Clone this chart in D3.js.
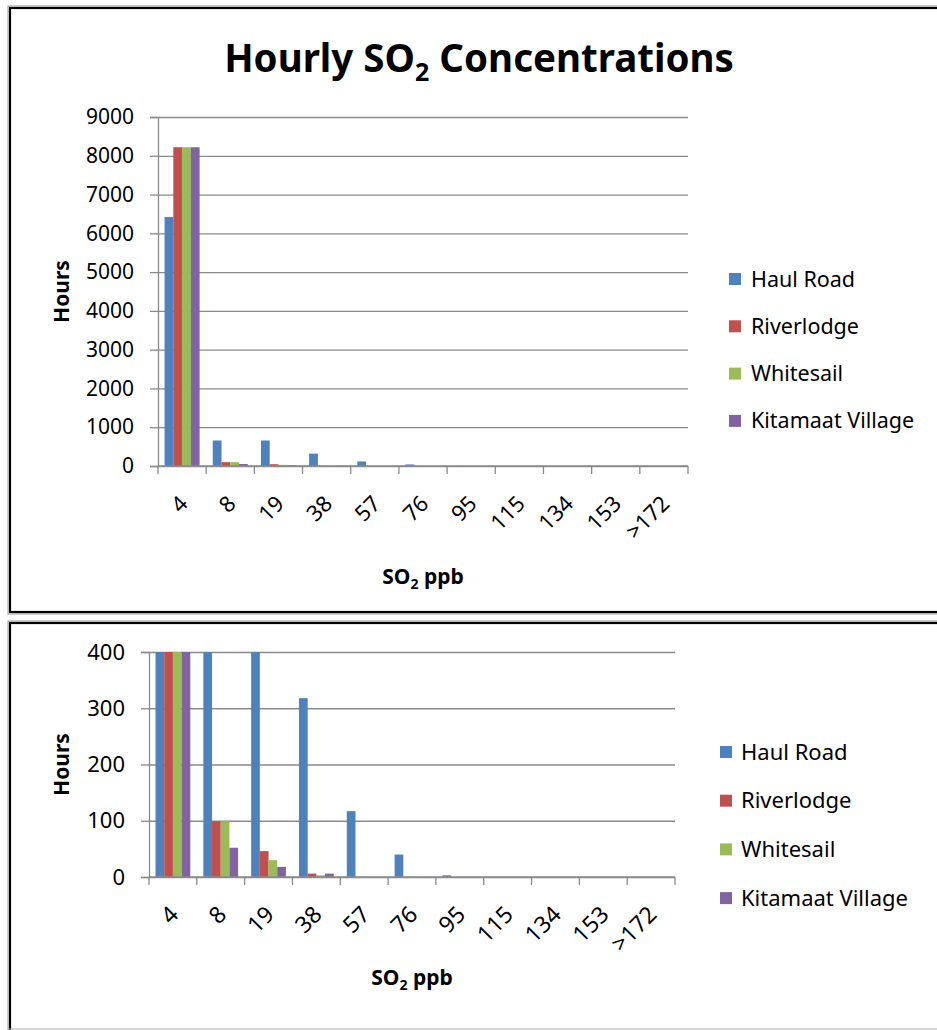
<!DOCTYPE html>
<html>
<head>
<meta charset="utf-8">
<script src="https://cdn.jsdelivr.net/npm/d3@7"></script>
<style>
  html, body { margin: 0; padding: 0; background: #fff; }
  svg { display: block; font-family: "Noto Sans", "Open Sans", sans-serif; }
</style>
</head>
<body>
<svg id="chart" width="937" height="1030"></svg>
<script>
// SO2 concentration bins (ppb) and hours per bin at each station
const categories = ["4", "8", "19", "38", "57", "76", "95", "115", "134", "153", ">172"];
const seriesNames = ["Haul Road", "Riverlodge", "Whitesail", "Kitamaat Village"];
const haulRoad   = [6420, 658, 658, 318, 117, 40, 3, 0, 0, 0, 0];
const riverlodge = [8220, 99, 46, 6, 0, 0, 0, 0, 0, 0, 0];
const whitesail  = [8220, 99, 30, 3, 0, 0, 0, 0, 0, 0, 0];
const kitamaat   = [8220, 52, 18, 6, 0, 0, 0, 0, 0, 0, 0];
const seriesColors = ["#4F81BD", "#C0504D", "#9BBB59", "#8064A2"];
const fullTicks = [0, 1000, 2000, 3000, 4000, 5000, 6000, 7000, 8000, 9000];
const zoomTicks = [0, 100, 200, 300, 400];

const seriesValues = [haulRoad, riverlodge, whitesail, kitamaat];
const rows = categories.map((c, i) => ({
  cat: c,
  values: seriesNames.map((s, k) => ({ key: s, value: seriesValues[k][i] }))
}));

const svg = d3.select("#chart");
const gridColor = "#8a8a8a";

// panel frame: black rule with a soft grey edge, open on the right
function frame(top, bottom) {
  const g = svg.append("g");
  g.append("rect").attr("x", 8).attr("y", top - 1).attr("width", 960).attr("height", bottom - top + 2)
    .attr("fill", "none").attr("stroke", "#9a9a9a").attr("stroke-width", 1);
  g.append("rect").attr("x", 10).attr("y", top + 1).attr("width", 960).attr("height", bottom - top - 2)
    .attr("fill", "none").attr("stroke", "#000").attr("stroke-width", 2.2);
}

// text with a subscript "2" (SO2); shifts are in pixels so the tail returns to the baseline
function so2Text(sel, before, after, subSize, shift) {
  sel.append("tspan").text(before);
  sel.append("tspan").attr("font-size", subSize).attr("dy", shift).text("2");
  sel.append("tspan").attr("dy", -shift).text(after);
}

function drawPanel(opt) {
  const g = svg.append("g");
  const x = d3.scaleBand().domain(categories).range([opt.left, opt.right]).padding(0);
  const y = d3.scaleLinear().domain([0, opt.max]).range([opt.bottom, opt.top]).clamp(true);
  const step = x.step();
  const xs = d3.scaleBand().domain(seriesNames)
    .range([step * 0.1364, step * 0.8636]).padding(0);

  // horizontal gridlines
  g.append("g").attr("transform", `translate(${opt.left},0)`)
    .call(d3.axisLeft(y).tickValues(opt.ticks).tickSize(-(opt.right - opt.left)).tickFormat(""))
    .call(a => a.select(".domain").remove())
    .call(a => a.selectAll("line").attr("stroke", gridColor).attr("stroke-width", 1.3));

  // y axis with outside ticks and labels
  g.append("g").attr("transform", `translate(${opt.left},0)`)
    .call(d3.axisLeft(y).tickValues(opt.ticks).tickSize(8).tickPadding(16).tickFormat(d3.format("d")))
    .call(a => a.select(".domain").attr("stroke", gridColor).attr("stroke-width", 1.3))
    .call(a => a.selectAll("line").attr("stroke", gridColor).attr("stroke-width", 1.3))
    .call(a => a.selectAll("text").attr("font-size", opt.tickFont).attr("fill", "#000")
      .attr("font-family", "Noto Sans"));

  // bars
  const groups = g.append("g").selectAll("g").data(rows).join("g")
    .attr("transform", d => `translate(${x(d.cat)},0)`);
  groups.selectAll("rect").data(d => d.values).join("rect")
    .attr("x", d => xs(d.key))
    .attr("width", xs.bandwidth())
    .attr("y", d => y(d.value))
    .attr("height", d => y(0) - y(d.value))
    .attr("fill", (d, i) => seriesColors[i]);

  // x axis line and tick marks at category boundaries
  g.append("line").attr("x1", opt.left).attr("x2", opt.right)
    .attr("y1", y(0)).attr("y2", y(0)).attr("stroke", gridColor).attr("stroke-width", 1.3);
  const bounds = categories.map(c => x(c)).concat([x(categories[categories.length - 1]) + step]);
  g.append("g").selectAll("line").data(bounds).join("line")
    .attr("x1", d => d).attr("x2", d => d)
    .attr("y1", y(0)).attr("y2", y(0) + 8)
    .attr("stroke", gridColor).attr("stroke-width", 1.3);

  // rotated category labels
  g.append("g").selectAll("text").data(categories).join("text")
    .attr("transform", d => `translate(${x(d) + step / 2 + 7},${y(0) + 39}) rotate(-45)`)
    .attr("text-anchor", "end")
    .attr("font-size", opt.tickFont + 1)
    .attr("fill", "#000")
    .text(d => d);

  // axis titles
  g.append("text")
    .attr("transform", `translate(${opt.yTitleX},${(opt.top + opt.bottom) / 2}) rotate(-90)`)
    .attr("text-anchor", "middle").attr("font-weight", "bold").attr("font-size", 21)
    .text("Hours");
  const xt = g.append("text")
    .attr("x", (opt.left + opt.right) / 2).attr("y", opt.xTitleY)
    .attr("text-anchor", "middle").attr("font-weight", "bold").attr("font-size", 21);
  so2Text(xt, "SO", " ppb", 14, 5);

  // legend
  const lg = g.append("g").selectAll("g").data(seriesNames).join("g")
    .attr("transform", (d, i) => `translate(${opt.legendX},${opt.legendY + i * opt.legendStep})`);
  lg.append("rect").attr("x", 0).attr("y", -6).attr("width", 12).attr("height", 12)
    .attr("fill", (d, i) => seriesColors[i]);
  lg.append("text").attr("x", opt.legendTextDx).attr("y", 0).attr("dy", "0.35em")
    .attr("font-size", opt.legendFont).attr("fill", "#000").text(d => d);
}

// panel frames
frame(7, 613);
frame(622, 1040);
svg.append("line").attr("x1", 8).attr("x2", 937).attr("y1", 1029).attr("y2", 1029)
  .attr("stroke", "#b0b0b0").attr("stroke-width", 1);

// chart title
const title = svg.append("text").attr("x", 479).attr("y", 72)
  .attr("text-anchor", "middle").attr("font-weight", "bold").attr("font-size", 38.5);
so2Text(title, "Hourly SO", " Concentrations", 25, 9);

// full-range panel
drawPanel({
  left: 158, right: 688, top: 117, bottom: 466, max: 9000, ticks: fullTicks,
  tickFont: 21, yTitleX: 69, xTitleY: 584,
  legendX: 729, legendY: 279, legendStep: 47.3, legendTextDx: 22, legendFont: 21.5
});

// low-range panel (bars above 400 h are cut at the top)
drawPanel({
  left: 149, right: 675, top: 652, bottom: 877, max: 400, ticks: zoomTicks,
  tickFont: 22, yTitleX: 69, xTitleY: 985,
  legendX: 720, legendY: 752, legendStep: 48.7, legendTextDx: 21, legendFont: 22
});
</script>
</body>
</html>
